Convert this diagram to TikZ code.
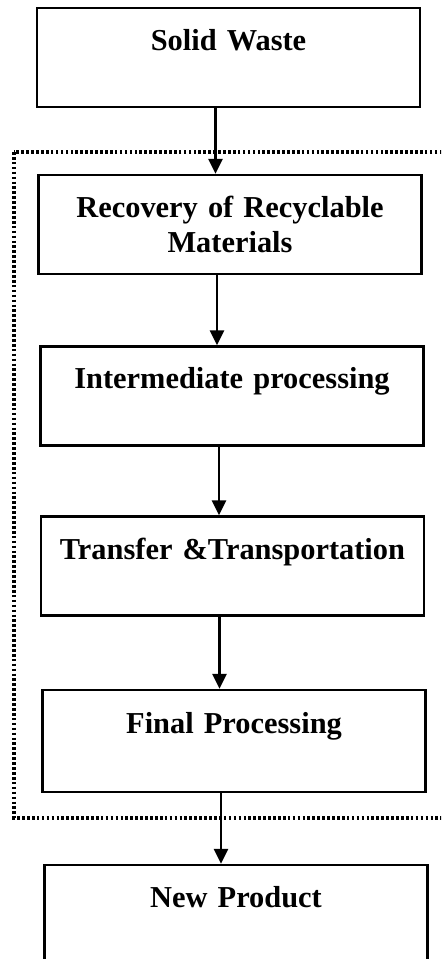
\documentclass[tikz,border=0pt]{standalone}
\usepackage{fontspec}
\setmainfont{Liberation Serif}
\usetikzlibrary{arrows.meta, positioning, calc}

\begin{document}
\begin{tikzpicture}[
  >={Triangle[length=0.3cm, width=0.28cm]},
  stagebox/.style={draw, line width=1.3pt, rectangle, inner sep=0pt,
    text width=7.66cm, minimum height=1.98cm, align=center,
    font=\fontsize{17.3}{20}\selectfont\bfseries},
  flow/.style={->, line width=1.4pt},
  groupline/.style={line width=1.8pt, dash pattern=on 1.5pt off 1.3pt}
]
  % ---- Canvas (scan is cut off at the bottom and right) ----
  \useasboundingbox (0,0) rectangle (8.82,-19.18);
  \clip (0,0) rectangle (8.82,-19.18);

  % ---- Stage boxes ----
  \node[stagebox] (waste) at (4.57,-1.15) {Solid Waste\\~};
  \node[stagebox] (recovery) at (4.60,-4.49) {Recovery of Recyclable\\Materials};
  \node[stagebox] (inter) at (4.64,-7.92) {Intermediate processing\\~};
  \node[stagebox] (transfer) at (4.65,-11.32) {Transfer \&Transportation\\~};
  \node[stagebox, minimum height=2.04cm] (final) at (4.68,-14.82) {Final Processing\\~};
  \node[stagebox] (product) at (4.72,-18.29) {New Product\\~};

  % ---- Dotted frame round the processing stages ----
  \draw[groupline] (0.28,-3.04) rectangle (9.3,-16.36);

  % ---- Flow arrows (a little left of the box centres) ----
  \foreach \a/\b in {waste/recovery, recovery/inter, inter/transfer, transfer/final, final/product}
    \draw[flow] ([xshift=-0.26cm]\a.south) -- ([xshift=-0.26cm]\a.south |- \b.north);

\end{tikzpicture}
\end{document}
